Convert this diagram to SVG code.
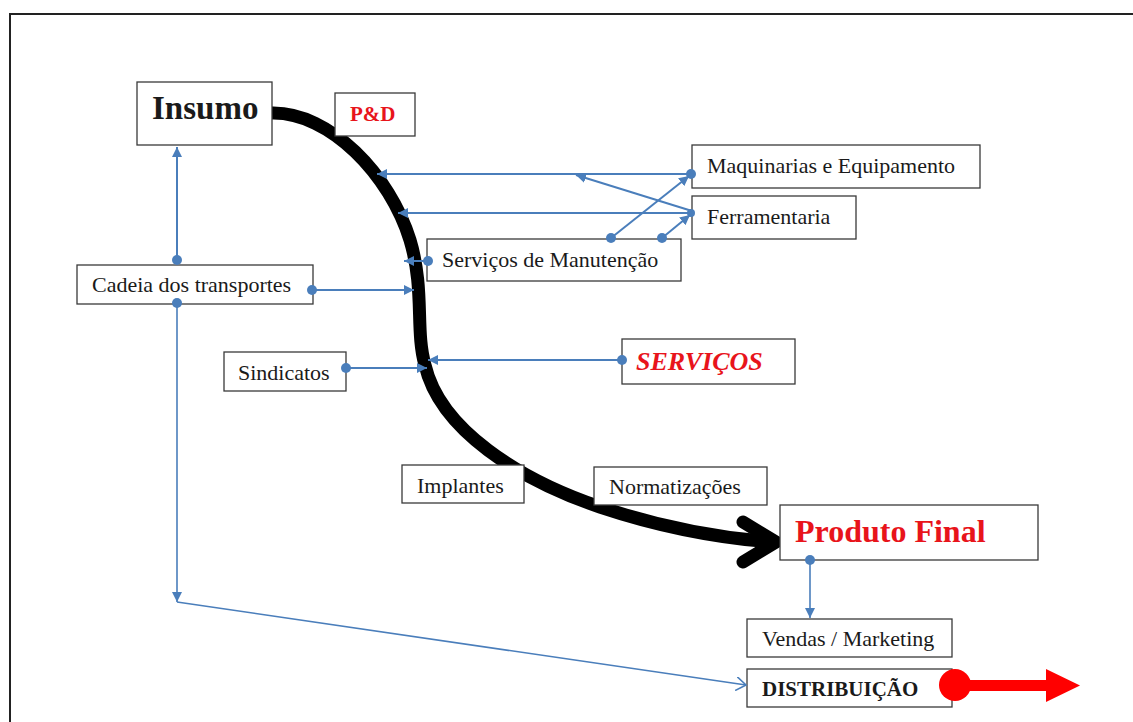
<svg xmlns="http://www.w3.org/2000/svg" width="1133" height="722" viewBox="0 0 1133 722">
<defs>
<style>
.box{fill:#fff;stroke:#3a3a3a;stroke-width:1.3}
.t{font-family:"Liberation Serif","Times New Roman",serif;font-size:22px;fill:#1a1a1a}
.b{font-weight:bold}
.red{fill:#e8141b}
.c{stroke:#4a7ebb;stroke-width:2;fill:none}
.thin{stroke:#4a7ebb;stroke-width:1.6;fill:none}
.dot{fill:#4a7ebb}
</style>
<marker id="ah" markerUnits="userSpaceOnUse" markerWidth="11" markerHeight="10" refX="10" refY="5" orient="auto">
<path d="M0,0 L10,5 L0,10 z" fill="#4a7ebb"/>
</marker>
<marker id="oa" markerUnits="userSpaceOnUse" markerWidth="12" markerHeight="14" refX="10" refY="7" orient="auto">
<path d="M0,0 L10,7 L0,14" fill="none" stroke="#4a7ebb" stroke-width="1.6"/>
</marker>
</defs>
<rect width="1133" height="722" fill="#fff"/>
<path d="M10,722 L10,14 L1133,14" fill="none" stroke="#222" stroke-width="2"/>

<g id="flow">
<path d="M272,113 C330,112 390,175 410,240 C425,290 415,330 425,365 C440,430 520,480 600,507 C660,527 720,538 772,542" fill="none" stroke="#000" stroke-width="13"/>
<path d="M743,522 L776,542 L743,562" fill="none" stroke="#000" stroke-width="13" stroke-linecap="round" stroke-linejoin="round"/>
</g>

<g id="insumo"><rect class="box" x="137" y="82" width="135" height="63"/><text class="t b" x="152" y="119" style="font-size:33px">Insumo</text></g>
<g id="pd"><rect class="box" x="335" y="93" width="80" height="43"/><text class="t b red" x="350" y="121" style="font-size:21px">P&amp;D</text></g>
<g id="cadeia"><rect class="box" x="77" y="265" width="236" height="39"/><text class="t" x="92" y="292">Cadeia dos transportes</text></g>
<g id="manutencao"><rect class="box" x="427" y="239" width="254" height="42"/><text class="t" x="442" y="267">Serviços de Manutenção</text></g>
<g id="maquinarias"><rect class="box" x="692" y="145" width="288" height="43"/><text class="t" x="707" y="173">Maquinarias e Equipamento</text></g>
<g id="ferramentaria"><rect class="box" x="692" y="196" width="164" height="43"/><text class="t" x="707" y="224">Ferramentaria</text></g>
<g id="servicos"><rect class="box" x="622" y="339" width="173" height="45"/><text class="t b red" x="636" y="370" style="font-size:26px;font-style:italic">SERVIÇOS</text></g>
<g id="sindicatos"><rect class="box" x="224" y="352" width="122" height="39"/><text class="t" x="238" y="380">Sindicatos</text></g>
<g id="implantes"><rect class="box" x="402" y="465" width="122" height="38"/><text class="t" x="417" y="493">Implantes</text></g>
<g id="normatizacoes"><rect class="box" x="594" y="467" width="173" height="38"/><text class="t" x="609" y="494">Normatizações</text></g>
<g id="produto"><rect class="box" x="780" y="505" width="258" height="55"/><text class="t b red" x="795" y="542" style="font-size:32px">Produto Final</text></g>
<g id="vendas"><rect class="box" x="747" y="619" width="205" height="38"/><text class="t" x="762" y="646">Vendas / Marketing</text></g>
<g id="distribuicao"><rect class="box" x="747" y="669" width="205" height="38"/><text class="t b" x="762" y="696" style="font-size:21px">DISTRIBUIÇÃO</text></g>

<g id="connectors">
<line class="c" x1="177" y1="260" x2="177" y2="147" marker-end="url(#ah)"/>
<circle class="dot" cx="177" cy="260" r="5"/>
<line class="thin" x1="177" y1="303" x2="177" y2="602" marker-end="url(#ah)"/>
<circle class="dot" cx="177" cy="303" r="5"/>
<line class="thin" x1="177" y1="602" x2="746" y2="685" marker-end="url(#oa)"/>
<line class="c" x1="312" y1="290" x2="414" y2="290" marker-end="url(#ah)"/>
<circle class="dot" cx="312" cy="290" r="5"/>
<line class="c" x1="428" y1="261" x2="404" y2="261" marker-end="url(#ah)"/>
<circle class="dot" cx="428" cy="261" r="5"/>
<line class="c" x1="691" y1="174" x2="377" y2="174" marker-end="url(#ah)"/>
<circle class="dot" cx="691" cy="174" r="5"/>
<line class="c" x1="691" y1="213" x2="398" y2="213" marker-end="url(#ah)"/>
<circle class="dot" cx="691" cy="213" r="4"/>
<line class="c" x1="692" y1="211" x2="576" y2="175" marker-end="url(#ah)"/>
<line class="c" x1="611" y1="238" x2="689" y2="176" marker-end="url(#ah)"/>
<circle class="dot" cx="611" cy="238" r="5"/>
<line class="c" x1="662" y1="238" x2="690" y2="215" marker-end="url(#ah)"/>
<circle class="dot" cx="662" cy="238" r="5"/>
<line class="c" x1="622" y1="360" x2="428" y2="360" marker-end="url(#ah)"/>
<circle class="dot" cx="622" cy="360" r="5"/>
<line class="c" x1="346" y1="368" x2="427" y2="368" marker-end="url(#ah)"/>
<circle class="dot" cx="346" cy="368" r="5"/>
<line class="thin" x1="810" y1="560" x2="810" y2="618" marker-end="url(#ah)"/>
<circle class="dot" cx="810" cy="560" r="5"/>
</g>

<g id="red-arrow">
<rect x="955" y="680" width="92" height="11" fill="#ff0000"/>
<polygon points="1046,669 1080,685.5 1046,702" fill="#ff0000"/>
<circle cx="955" cy="685" r="16" fill="#ff0000"/>
</g>
</svg>
